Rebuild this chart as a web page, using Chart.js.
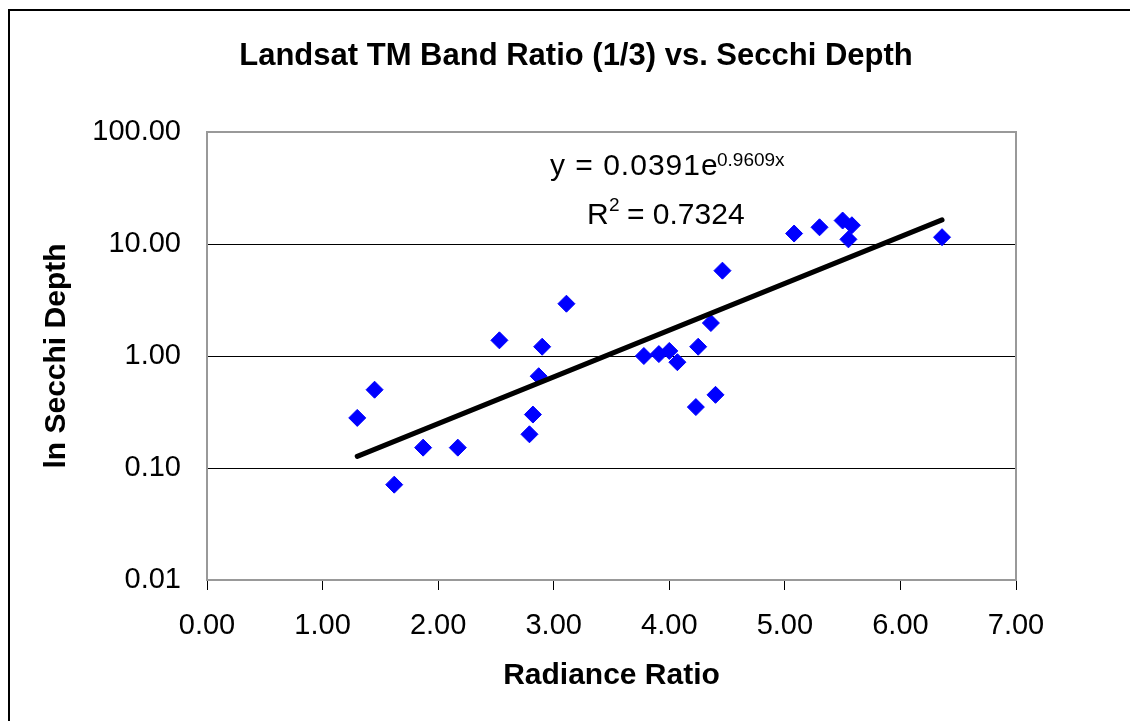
<!DOCTYPE html>
<html lang="en-US">
<head>
  <meta charset="utf-8">
  <title>Landsat TM Band Ratio vs. Secchi Depth</title>
  <script src="https://cdn.jsdelivr.net/npm/chart.js@4.4.1/dist/chart.umd.min.js"></script>
  <style>
  body { margin: 0; background: #fff; }
  canvas { display: block; }
  </style>
</head>
<body>
<canvas id="chart" width="1130" height="721"></canvas>
<script>
// measured stations
var radianceRatio = [1.30, 1.45, 1.62, 1.87, 2.17, 2.53, 2.90, 2.87, 2.82, 2.79, 3.11,
  3.78, 3.91, 4.00, 4.07, 4.25, 4.36, 4.23, 4.40, 4.46, 5.08, 5.30, 5.50, 5.58, 5.55, 6.36];
var secchiDepth = [0.28, 0.50, 0.071, 0.152, 0.152, 1.38, 1.21, 0.66, 0.30, 0.20, 2.93,
  1.00, 1.04, 1.11, 0.88, 1.21, 1.97, 0.35, 0.45, 5.78, 12.4, 14.1, 16.2, 14.7, 11.0, 11.5];

// exponential trendline ends (straight on the log axis)
var trendX = [1.30, 6.36];
var trendY = [0.127, 16.4];

var yTicks = [0.01, 0.1, 1, 10, 100];
var xTicks = [0, 1, 2, 3, 4, 5, 6, 7];

var FONT = '"Liberation Sans", Arial, sans-serif';

function toPoints(xs, ys) {
  return xs.map(function(x, i) { return {x: x, y: ys[i]}; });
}

var decorPlugin = {
  id: 'decor',
  beforeDraw: function(chart) {
    var ctx = chart.ctx;
    ctx.save();
    ctx.fillStyle = '#fff';
    ctx.fillRect(0, 0, chart.width, chart.height);
    // outer chart frame
    ctx.strokeStyle = '#000';
    ctx.lineWidth = 2;
    ctx.strokeRect(9, 10, 3000, 3000);
    ctx.restore();
  },
  afterDraw: function(chart) {
    var ctx = chart.ctx;
    var a = chart.chartArea;
    ctx.save();
    // plot area frame, top and right
    ctx.strokeStyle = '#999';
    ctx.lineWidth = 2;
    ctx.beginPath();
    ctx.moveTo(a.left, a.top);
    ctx.lineTo(a.right, a.top);
    ctx.lineTo(a.right, a.bottom);
    ctx.stroke();

    ctx.fillStyle = '#000';
    ctx.textBaseline = 'alphabetic';
    ctx.textAlign = 'center';
    ctx.font = 'bold 31px ' + FONT;
    ctx.fillText('Landsat TM Band Ratio (1/3) vs. Secchi Depth', 576, 65);

    // trendline equation
    ctx.textAlign = 'left';
    ctx.font = '30px ' + FONT;
    ctx.letterSpacing = '1px';
    ctx.fillText('y = 0.0391e', 550, 175);
    ctx.letterSpacing = '0px';
    ctx.font = '19px ' + FONT;
    ctx.fillText('0.9609x', 717, 166);

    ctx.font = '30px ' + FONT;
    ctx.fillText('R', 587, 224);
    ctx.font = '19px ' + FONT;
    ctx.fillText('2', 609, 211);
    ctx.font = '30px ' + FONT;
    ctx.fillText('= 0.7324', 627, 224);
    ctx.restore();
  }
};

new Chart(document.getElementById('chart').getContext('2d'), {
  type: 'scatter',
  data: {
    datasets: [{
      label: 'Trend',
      type: 'line',
      data: toPoints(trendX, trendY),
      borderColor: '#000',
      borderWidth: 5,
      borderCapStyle: 'round',
      pointRadius: 0,
      fill: false,
      order: 0
    }, {
      label: 'Secchi Depth',
      data: toPoints(radianceRatio, secchiDepth),
      pointStyle: 'rectRot',
      pointRadius: 8.5,
      pointHoverRadius: 8.5,
      backgroundColor: '#0000ff',
      borderColor: '#0000ff',
      borderWidth: 1,
      order: 1
    }]
  },
  options: {
    responsive: false,
    animation: false,
    events: [],
    layout: { padding: { top: 132, right: 114, bottom: 0, left: 0 } },
    plugins: {
      legend: { display: false },
      title: { display: false },
      tooltip: { enabled: false }
    },
    scales: {
      x: {
        type: 'linear',
        min: 0,
        max: 7,
        afterBuildTicks: function(scale) {
          scale.ticks = xTicks.map(function(v) { return {value: v}; });
        },
        afterFit: function(scale) { scale.height = 141; },
        ticks: {
          color: '#000',
          font: { family: FONT, size: 29 },
          padding: 19,
          maxRotation: 0,
          callback: function(v) { return Number(v).toFixed(2); }
        },
        grid: {
          drawOnChartArea: false,
          drawTicks: true,
          tickLength: 10,
          color: '#000'
        },
        border: { display: true, color: '#999', width: 2 },
        title: {
          display: true,
          text: 'Radiance Ratio',
          color: '#000',
          font: { family: FONT, size: 30, weight: 'bold' },
          padding: { top: 0, bottom: 27 }
        }
      },
      y: {
        type: 'logarithmic',
        min: 0.01,
        max: 100,
        afterBuildTicks: function(scale) {
          scale.ticks = yTicks.map(function(v) { return {value: v}; });
        },
        afterFit: function(scale) { scale.width = 207; },
        ticks: {
          color: '#000',
          font: { family: FONT, size: 29 },
          padding: 26,
          callback: function(v) { return Number(v).toFixed(2); }
        },
        grid: {
          drawTicks: false,
          lineWidth: 1,
          color: function(c) {
            var v = c.tick && c.tick.value;
            return (v === 0.1 || v === 1 || v === 10) ? '#000' : 'rgba(0,0,0,0)';
          }
        },
        border: { display: true, color: '#999', width: 2 },
        title: {
          display: true,
          text: 'ln Secchi Depth',
          color: '#000',
          font: { family: FONT, size: 30, weight: 'bold' },
          padding: { top: 39, bottom: 0 }
        }
      }
    }
  },
  plugins: [decorPlugin]
});
</script>
</body>
</html>
